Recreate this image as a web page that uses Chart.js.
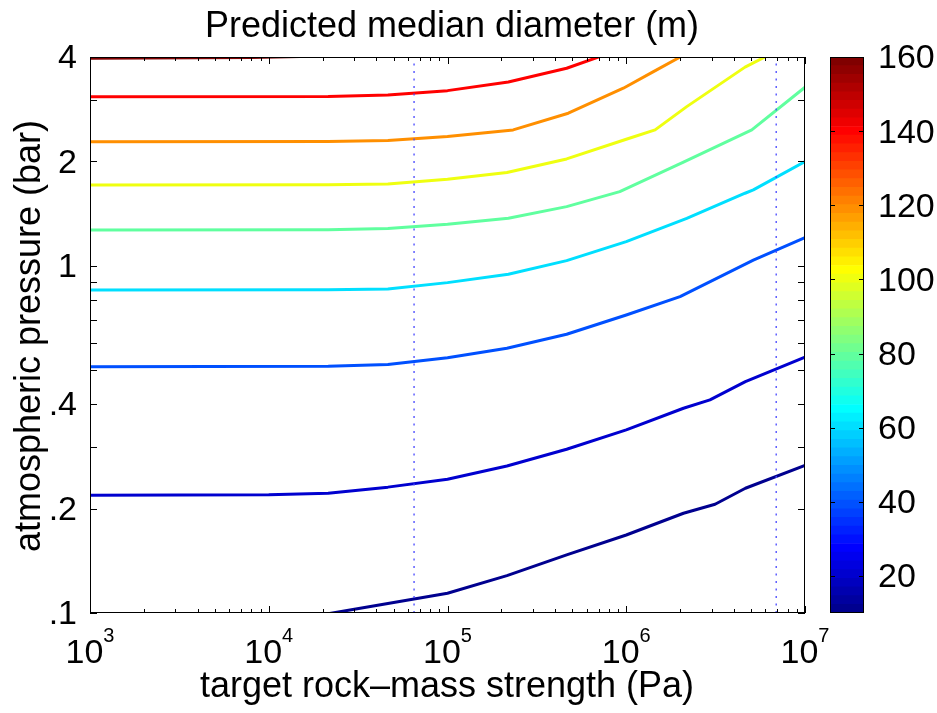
<!DOCTYPE html>
<html><head><meta charset="utf-8">
<script src="https://cdn.jsdelivr.net/npm/chart.js@4.4.1/dist/chart.umd.min.js"></script>
<style>
html,body{margin:0;padding:0;background:#fff;}
#wrap{position:relative;width:937px;height:713px;overflow:hidden;}
#main{position:absolute;left:0;top:0;}
#cbar{position:absolute;left:820px;top:0;}
</style></head><body>
<div id="wrap">
<canvas id="main" width="937" height="713"></canvas>
<canvas id="cbar" width="117" height="713"></canvas>
</div>
<script>
// ---------------- data ----------------
const levels = [10, 20, 40, 60, 80, 100, 120, 140, 160];   // median diameter (m)

const strength_d10 = [1.2e4, 2.15e4, 4.64e4, 1e5, 2.15e5, 4.64e5, 1e6, 2.09e6, 3.14e6, 4.64e6, 1e7];
const pressure_d10 = [0.0944, 0.0995, 0.1065, 0.1140, 0.1281, 0.1470, 0.1678, 0.1938, 0.2057, 0.2288, 0.2662];

const strength_d20 = [1e3, 1e4, 2.15e4, 4.64e4, 1e5, 2.15e5, 4.64e5, 1e6, 2.09e6, 2.94e6, 4.64e6, 1e7];
const pressure_d20 = [0.2184, 0.2192, 0.2215, 0.2305, 0.2428, 0.2652, 0.2963, 0.3369, 0.3890, 0.4111, 0.4640, 0.5457];

const strength_d40 = [1e3, 2.15e4, 4.64e4, 1e5, 2.15e5, 4.64e5, 1e6, 2.0e6, 5.14e6, 1e7];
const pressure_d40 = [0.5127, 0.5140, 0.5200, 0.5442, 0.5792, 0.6356, 0.7223, 0.8156, 1.039, 1.206];

const strength_d60 = [1e3, 2.15e4, 4.64e4, 1e5, 2.19e5, 4.64e5, 1e6, 2.18e6, 4.62e6, 5.14e6, 1e7];
const pressure_d60 = [0.8527, 0.8540, 0.8584, 0.8952, 0.9464, 1.036, 1.175, 1.372, 1.620, 1.656, 2.0];

const strength_d80 = [1e3, 2.15e4, 4.64e4, 1e5, 2.19e5, 4.64e5, 9.2e5, 2.09e6, 5.04e6, 1e7];
const pressure_d80 = [1.270, 1.272, 1.282, 1.319, 1.372, 1.482, 1.637, 1.99, 2.466, 3.273];

const strength_d100 = [1e3, 2.15e4, 4.64e4, 1e5, 2.15e5, 4.64e5, 1e6, 1.45e6, 2.18e6, 4.62e6, 5.97e6];
const pressure_d100 = [1.712, 1.714, 1.722, 1.778, 1.858, 2.034, 2.318, 2.466, 2.878, 3.74, 4.0];

const strength_d120 = [1e3, 2.15e4, 4.64e4, 1e5, 2.33e5, 4.74e5, 9.63e5, 1.42e6, 2.04e6];
const pressure_d120 = [2.281, 2.284, 2.300, 2.359, 2.466, 2.755, 3.252, 3.63, 4.02];

const strength_d140 = [1e3, 2.15e4, 4.64e4, 1e5, 2.19e5, 4.64e5, 7.3e5];
const pressure_d140 = [3.075, 3.080, 3.110, 3.200, 3.390, 3.713, 4.03];

const strength_d160 = [1e3, 8e3, 1.5e4];
const pressure_d160 = [3.97, 3.985, 4.01];

const markerStrengths = [6.5e4, 6.9e6];          // dotted vertical lines (Pa)
const markerPressureRange = [0.1, 4];

const xMajorTicks = [1e3, 1e4, 1e5, 1e6, 1e7];
const xTickBase = '10';
const xTickExponents = ['3', '4', '5', '6', '7'];
const xMinorTicks = [2e3,3e3,4e3,5e3,6e3,7e3,8e3,9e3, 2e4,3e4,4e4,5e4,6e4,7e4,8e4,9e4,
                     2e5,3e5,4e5,5e5,6e5,7e5,8e5,9e5, 2e6,3e6,4e6,5e6,6e6,7e6,8e6,9e6];
const yTicks = [0.1, 0.2, 0.3, 0.4, 0.5, 0.6, 0.7, 0.8, 0.9, 1, 2, 3, 4];
const yTickLabels = ['.1', '.2', '', '.4', '', '', '', '', '', '1', '2', '', '4'];
const cbTicks = [20, 40, 60, 80, 100, 120, 140, 160];
const cbRange = [10, 160];

const titleText = 'Predicted median diameter (m)';
const xLabelText = 'target rock\u2013mass strength (Pa)';
const yLabelText = 'atmospheric pressure (bar)';

// ---------------- styling helpers ----------------
const FONT = '"Liberation Sans", Arial, Helvetica, sans-serif';

function jet(m) {
  const n = Math.ceil(m / 4);
  const u = [];
  for (let i = 1; i <= n; i++) u.push(i / n);
  for (let i = 0; i < n - 1; i++) u.push(1);
  for (let i = n; i >= 1; i--) u.push(i / n);
  const J = Array.from({length: m}, () => [0, 0, 0]);
  const base = Math.ceil(n / 2) - (m % 4 === 1 ? 1 : 0);
  for (let k = 0; k < u.length; k++) {
    const g = base + k + 1, r = g + n, b = g - n;
    if (r >= 1 && r <= m) J[r - 1][0] = u[k];
    if (g >= 1 && g <= m) J[g - 1][1] = u[k];
    if (b >= 1 && b <= m) J[b - 1][2] = u[k];
  }
  return J.map(c => `rgb(${Math.round(c[0]*255)},${Math.round(c[1]*255)},${Math.round(c[2]*255)})`);
}
const JET = jet(64);
function levelColor(v) {
  const idx = Math.max(0, Math.min(63, Math.floor((v - cbRange[0]) / (cbRange[1] - cbRange[0]) * 64)));
  return JET[idx];
}

// ---------------- main chart ----------------
const contourSeries = [
  [strength_d10, pressure_d10], [strength_d20, pressure_d20], [strength_d40, pressure_d40],
  [strength_d60, pressure_d60], [strength_d80, pressure_d80], [strength_d100, pressure_d100],
  [strength_d120, pressure_d120], [strength_d140, pressure_d140], [strength_d160, pressure_d160]
];

const datasets = [];
markerStrengths.forEach(m => {
  datasets.push({
    data: markerPressureRange.map(p => ({x: m, y: p})),
    showLine: true, borderColor: 'rgb(70,70,255)', borderWidth: 1.3,
    borderDash: [2, 5.5], pointRadius: 0, order: 1, clip: 0
  });
});
contourSeries.forEach((s, i) => {
  datasets.push({
    data: s[0].map((x, j) => ({x: x, y: s[1][j]})),
    showLine: true, borderColor: levelColor(levels[i]), borderWidth: 3,
    borderJoinStyle: 'round', pointRadius: 0, order: 2, clip: 0
  });
});

const axesDecor = {
  id: 'axesDecor',
  afterDraw(chart) {
    const {ctx, chartArea: a, scales: {x, y}} = chart;
    ctx.save();
    ctx.strokeStyle = '#000';
    ctx.lineWidth = 1;
    ctx.strokeRect(a.left + 0.5, a.top + 0.5, a.right - a.left - 1, a.bottom - a.top - 1);
    ctx.beginPath();
    const xt = (v, len) => {
      const px = Math.round(x.getPixelForValue(v)) + 0.5;
      ctx.moveTo(px, a.bottom); ctx.lineTo(px, a.bottom - len);
      ctx.moveTo(px, a.top); ctx.lineTo(px, a.top + len);
    };
    xMajorTicks.forEach(v => xt(v, 7));
    xMinorTicks.forEach(v => xt(v, 4));
    yTicks.forEach(v => {
      const py = Math.round(y.getPixelForValue(v)) + 0.5;
      ctx.moveTo(a.left, py); ctx.lineTo(a.left + 7, py);
      ctx.moveTo(a.right, py); ctx.lineTo(a.right - 7, py);
    });
    ctx.stroke();

    ctx.fillStyle = '#000';
    ctx.textBaseline = 'alphabetic';
    // x tick labels with superscript exponents
    xMajorTicks.forEach((v, i) => {
      const px = x.getPixelForValue(v);
      ctx.font = `34px ${FONT}`;
      const wb = ctx.measureText(xTickBase).width;
      ctx.font = `20px ${FONT}`;
      const we = ctx.measureText(xTickExponents[i]).width;
      const start = px - (wb + we) / 2;
      ctx.textAlign = 'left';
      ctx.font = `34px ${FONT}`;
      ctx.fillText(xTickBase, start, 663);
      ctx.font = `20px ${FONT}`;
      ctx.fillText(xTickExponents[i], start + wb, 642);
    });
    // title & axis labels
    ctx.textAlign = 'center';
    ctx.font = `36px ${FONT}`;
    ctx.fillText(titleText, 452, 37);
    ctx.fillText(xLabelText, 447, 697);
    ctx.translate(40, 336);
    ctx.rotate(-Math.PI / 2);
    ctx.fillText(yLabelText, 0, 0);
    ctx.restore();
  }
};

new Chart(document.getElementById('main'), {
  type: 'scatter',
  data: {datasets},
  options: {
    responsive: false,
    animation: false,
    devicePixelRatio: 1,
    layout: {padding: {left: 30, right: 132, top: 57, bottom: 100}},
    plugins: {legend: {display: false}, tooltip: {enabled: false}, title: {display: false}},
    elements: {point: {radius: 0}, line: {tension: 0}},
    scales: {
      x: {type: 'logarithmic', min: 1e3, max: 1e7, display: false},
      y: {
        type: 'logarithmic', min: 0.1, max: 4, position: 'left',
        grid: {display: false}, border: {display: false},
        afterBuildTicks: s => { s.ticks = yTicks.map(v => ({value: v})); },
        afterFit: s => { s.width = 60; },
        ticks: {
          font: {family: FONT, size: 34}, color: '#000', padding: 5,
          autoSkip: false, labelOffset: 2,
          callback: (v, i) => yTickLabels[i]
        }
      }
    }
  },
  plugins: [axesDecor]
});

// ---------------- colorbar ----------------
const cbDatasets = JET.map((c, i) => {
  const lo = cbRange[0] + i * (cbRange[1] - cbRange[0]) / 64;
  const hi = cbRange[0] + (i + 1) * (cbRange[1] - cbRange[0]) / 64;
  return {data: [[lo, hi]], backgroundColor: c, borderWidth: 0,
          barPercentage: 1, categoryPercentage: 1, grouped: false};
});

const cbDecor = {
  id: 'cbDecor',
  afterDraw(chart) {
    const {ctx, chartArea: a, scales: {y}} = chart;
    ctx.save();
    ctx.strokeStyle = '#000';
    ctx.lineWidth = 1;
    ctx.strokeRect(a.left + 0.5, a.top + 0.5, a.right - a.left - 1, a.bottom - a.top - 1);
    ctx.beginPath();
    cbTicks.forEach(v => {
      const py = Math.round(y.getPixelForValue(v)) + 0.5;
      ctx.moveTo(a.left, py); ctx.lineTo(a.left + 5, py);
      ctx.moveTo(a.right, py); ctx.lineTo(a.right - 5, py);
    });
    ctx.stroke();
    ctx.restore();
  }
};

new Chart(document.getElementById('cbar'), {
  type: 'bar',
  data: {labels: ['D'], datasets: cbDatasets},
  options: {
    responsive: false,
    animation: false,
    devicePixelRatio: 1,
    layout: {padding: {left: 10, right: 0, top: 57, bottom: 100}},
    plugins: {legend: {display: false}, tooltip: {enabled: false}},
    scales: {
      x: {display: false},
      y: {
        position: 'right', min: cbRange[0], max: cbRange[1],
        grid: {display: false}, border: {display: false},
        afterBuildTicks: s => { s.ticks = cbTicks.map(v => ({value: v})); },
        afterFit: s => { s.width = 73; },
        ticks: {font: {family: FONT, size: 34}, color: '#000', padding: 6, labelOffset: 2}
      }
    }
  },
  plugins: [cbDecor]
});
</script>
</body></html>
